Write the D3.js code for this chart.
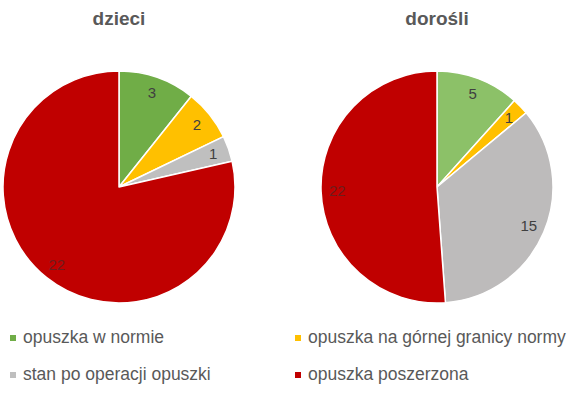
<!DOCTYPE html>
<html>
<head>
<meta charset="utf-8">
<script src="https://cdn.jsdelivr.net/npm/d3@7"></script>
<style>
  body { margin: 0; background: #fff; }
  svg { display: block; font-family: "Liberation Sans", Arial, sans-serif; }
</style>
</head>
<body>
<div id="chart"></div>
<script>
// categories + values
const categories = ['opuszka w normie', 'opuszka na górnej granicy normy', 'stan po operacji opuszki', 'opuszka poszerzona'];
const titles = ['dzieci', 'dorośli'];
const dzieciValues = [3, 2, 1, 22];
const doroslValues = [5, 1, 15, 22];

const width = 576, height = 394;
const svg = d3.select('#chart').append('svg')
  .attr('width', width)
  .attr('height', height);

// colours per pie (the green differs a bit between the two)
const palettes = [
  ['#70ad47', '#ffc000', '#bfbfbf', '#c00000'],
  ['#8cc168', '#ffc000', '#bdbbbb', '#c00000']
];

const r = 116;
const centers = d3.scalePoint().domain(titles).range([119, 437]);
const cy = 187;

const pie = d3.pie().sort(null).value(d => d);
const arc = d3.arc().innerRadius(0).outerRadius(r);
const labelArc = d3.arc().innerRadius(r * 0.86).outerRadius(r * 0.86);

[dzieciValues, doroslValues].forEach((vals, i) => {
  const cx = centers(titles[i]);
  const g = svg.append('g').attr('transform', `translate(${cx},${cy})`);

  g.selectAll('path')
    .data(pie(vals))
    .enter()
    .append('path')
    .attr('d', arc)
    .attr('fill', (d, j) => palettes[i][j])
    .attr('stroke', '#fff')
    .attr('stroke-width', 1.5)
    .attr('stroke-linejoin', 'round');

  g.selectAll('text')
    .data(pie(vals))
    .enter()
    .append('text')
    .attr('transform', d => `translate(${labelArc.centroid(d)})`)
    .attr('text-anchor', 'middle')
    .attr('dy', '0.35em')
    .style('font-size', '15px')
    .style('fill', (d, j) => j === 3 ? '#6e1c1c' : '#404040')
    .text(d => d.data);

  svg.append('text')
    .attr('x', cx)
    .attr('y', 25)
    .attr('text-anchor', 'middle')
    .style('font-size', '19px')
    .style('font-weight', 'bold')
    .style('fill', '#595959')
    .text(titles[i]);
});

// legend, 2 columns x 2 rows
const legendCol = [10, 295];
const legendRow = [343, 380];
const legend = svg.append('g');
categories.forEach((c, j) => {
  const x = legendCol[j % 2], y = legendRow[Math.floor(j / 2)];
  legend.append('rect')
    .attr('x', x)
    .attr('y', y - 8)
    .attr('width', 6)
    .attr('height', 6)
    .attr('fill', palettes[0][j]);
  legend.append('text')
    .attr('x', x + 13)
    .attr('y', y)
    .style('font-size', '17.5px')
    .style('fill', '#595959')
    .text(c);
});
</script>
</body>
</html>
